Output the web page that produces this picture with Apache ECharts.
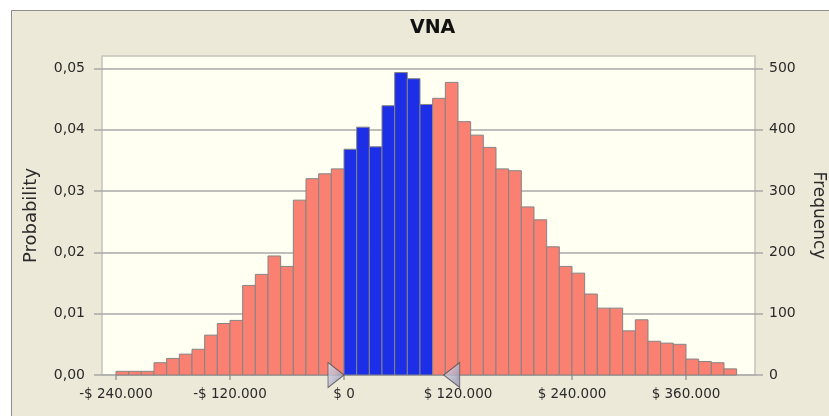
<!DOCTYPE html>
<html>
<head>
<meta charset="utf-8">
<script src="https://cdn.jsdelivr.net/npm/echarts@6/dist/echarts.min.js"></script>
<style>
  html, body { margin: 0; padding: 0; background: #ffffff; }
  #chart { width: 829px; height: 416px; }
</style>
</head>
<body>
<div id="chart"></div>
<script>
// Forecast histogram of VNA (net present value), 10 000 trials
const chartTitle = 'VNA';
const trials = 10000;
const binStart = -240000;          // lower edge of the first bin
const binWidth = 40000 / 3;        // width of each bin
const counts = [
  6, 6, 6, 20, 27, 34, 42, 65, 84, 89, 146, 164, 194, 177, 285, 320, 328, 336,
  368, 404, 372, 439, 493, 483, 441,
  451, 477, 413, 391, 371, 336, 333, 274, 253, 209, 177, 166, 132, 109, 109,
  72, 90, 55, 52, 50, 26, 22, 20, 10
];
const certainty = [0, 105000];     // certainty range grabbers
const xTicks = [-240000, -120000, 0, 120000, 240000, 360000];
const probTicks = [0, 0.01, 0.02, 0.03, 0.04, 0.05];
const freqTicks = [0, 100, 200, 300, 400, 500];

const FONT = 'DejaVu Sans';
const TEXT = '#2a2a2a';

// bins as [start, end, count]
const bins = counts.map((c, i) => {
  const s = binStart + i * binWidth;
  return [s, s + binWidth, c];
});

function money(v) {
  const a = Math.abs(Math.round(v)).toString().replace(/\B(?=(\d{3})+(?!\d))/g, '.');
  return (v < 0 ? '-$ ' : '$ ') + a;
}

const chart = echarts.init(document.getElementById('chart'), null, { renderer: 'canvas' });

const grabberFill = new echarts.graphic.LinearGradient(0, 0, 1, 1, [
  { offset: 0, color: '#e6e6f2' },
  { offset: 1, color: '#8c8cae' }
]);

chart.setOption({
  backgroundColor: '#ffffff',
  animation: false,
  graphic: [{
    type: 'rect',
    z: -10,
    silent: true,
    shape: { x: 11.5, y: 10.5, width: 840, height: 430 },
    style: { fill: '#ece9d8', stroke: '#8c8c8c', lineWidth: 1 }
  }],
  title: {
    text: chartTitle,
    left: 405,
    top: 14,
    textStyle: { fontFamily: FONT, fontSize: 19, fontWeight: 'bold', color: '#111' }
  },
  grid: {
    left: 102, right: 74, top: 56, bottom: 41,
    outerBoundsMode: 'none',
    containLabel: false,
    show: true,
    backgroundColor: '#fffff2',
    borderColor: '#c4c4bc',
    borderWidth: 1.5
  },
  xAxis: {
    type: 'value',
    min: -254737,
    max: 432632,
    axisLine: { show: false, onZero: false },
    splitLine: { show: false },
    axisTick: { show: true, customValues: xTicks, length: 5, lineStyle: { color: '#9a9a9a', width: 1.5 } },
    axisLabel: {
      customValues: xTicks,
      formatter: money,
      margin: 12,
      fontFamily: FONT, fontSize: 13.5, color: TEXT
    }
  },
  yAxis: [{
    type: 'value',
    position: 'left',
    min: 0,
    max: 0.052,
    interval: 0.01,
    name: 'Probability',
    nameLocation: 'middle',
    nameGap: 62,
    nameTextStyle: { fontFamily: FONT, fontSize: 18, color: TEXT },
    axisLine: { show: false, onZero: false },
    axisTick: { show: true, customValues: probTicks, length: 8, lineStyle: { color: '#a8a8a8', width: 1.5 } },
    axisLabel: {
      customValues: probTicks,
      formatter: v => v.toFixed(2).replace('.', ','),
      margin: 17,
      fontFamily: FONT, fontSize: 14, color: TEXT
    },
    splitLine: { show: true, lineStyle: { color: '#a8a8a8', width: 1.5 } }
  }, {
    type: 'value',
    position: 'right',
    min: 0,
    max: trials * 0.052,
    interval: 100,
    name: 'Frequency',
    nameLocation: 'middle',
    nameRotate: -90,
    nameGap: 55,
    nameTextStyle: { fontFamily: FONT, fontSize: 17, color: TEXT },
    axisLine: { show: false, onZero: false },
    axisTick: { show: true, customValues: freqTicks, length: 8, lineStyle: { color: '#a8a8a8', width: 1.5 } },
    axisLabel: {
      customValues: freqTicks,
      margin: 14,
      fontFamily: FONT, fontSize: 14, color: TEXT
    },
    splitLine: { show: false }
  }],
  series: [{
    type: 'custom',
    name: 'Frequency',
    yAxisIndex: 1,
    data: bins,
    encode: { x: [0, 1], y: 2 },
    renderItem: function (params, api) {
      const x0 = api.value(0), x1 = api.value(1), c = api.value(2);
      const pTop = api.coord([x0, c]);
      const pBot = api.coord([x1, 0]);
      const inRange = x0 >= certainty[0] - 1 && x1 <= certainty[1];
      return {
        type: 'rect',
        shape: { x: pTop[0], y: pTop[1], width: pBot[0] - pTop[0], height: pBot[1] - pTop[1] },
        style: {
          fill: inRange ? '#1c2ee6' : '#fa8072',
          stroke: '#858585',
          lineWidth: 1
        }
      };
    }
  }, {
    type: 'scatter',
    name: 'Certainty',
    yAxisIndex: 1,
    clip: false,
    z: 5,
    data: [{
      value: [certainty[0], 0],
      symbol: 'path://M0,0L16,12.5L0,25Z',
      symbolOffset: [-8, 0]
    }, {
      value: [certainty[1], 0],
      symbol: 'path://M16,0L0,12.5L16,25Z',
      symbolOffset: [8, 0]
    }],
    symbolSize: [16, 25],
    itemStyle: { color: grabberFill, borderColor: '#4a4a4a', borderWidth: 1 }
  }]
});
</script>
</body>
</html>
